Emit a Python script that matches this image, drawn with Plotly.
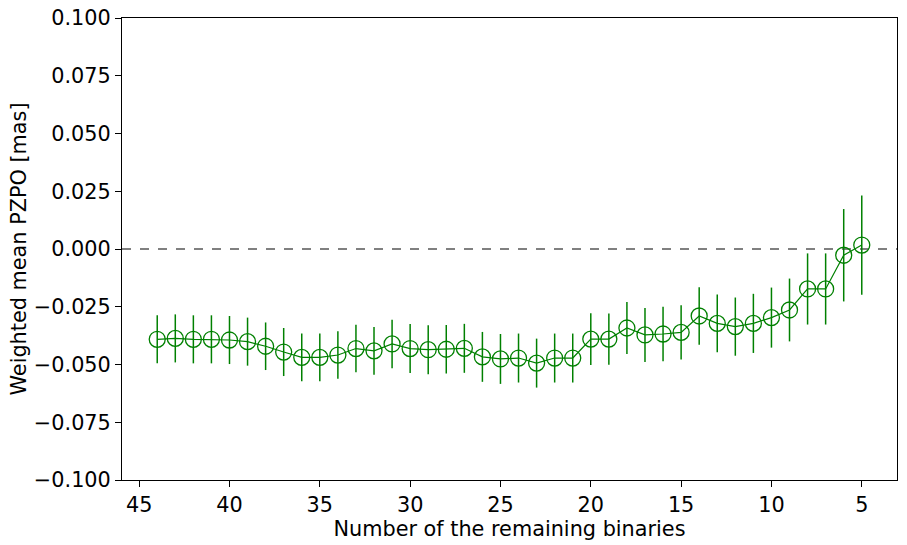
import plotly.graph_objects as go

n_binaries = list(range(44, 4, -1))
pzpo = [-0.0391, -0.0387, -0.0391, -0.0391, -0.0394, -0.0401, -0.0421, -0.0446,
        -0.0469, -0.0469, -0.0459, -0.0431, -0.0441, -0.0411, -0.0431, -0.0436,
        -0.0434, -0.0430, -0.0467, -0.0476, -0.0472, -0.0494, -0.0472, -0.0472,
        -0.0390, -0.0390, -0.0342, -0.0372, -0.0368, -0.0361, -0.0290, -0.0322,
        -0.0336, -0.0322, -0.0297, -0.0264, -0.0173, -0.0173, -0.0027, 0.0017]
pzpo_err = [0.0104, 0.0104, 0.0104, 0.0104, 0.0104, 0.0104, 0.0103, 0.0104,
            0.0103, 0.0103, 0.0103, 0.0103, 0.0103, 0.0105, 0.0106, 0.0106,
            0.0105, 0.0106, 0.0108, 0.0108, 0.0106, 0.0106, 0.0106, 0.0106,
            0.0112, 0.0111, 0.0113, 0.0117, 0.0118, 0.0117, 0.0124, 0.0125,
            0.0126, 0.0128, 0.0130, 0.0136, 0.0154, 0.0154, 0.0200, 0.0215]

green = "#008000"
font = dict(family="DejaVu Sans", size=20.8, color="black")

fig = go.Figure()
fig.add_hline(y=0, line=dict(color="gray", width=1.8, dash="dash"), layer="below")
fig.add_trace(go.Scatter(
    x=n_binaries, y=pzpo, mode="lines+markers",
    line=dict(color=green, width=1.2),
    marker=dict(symbol="circle-open", size=16, color=green, line=dict(width=1.3)),
    error_y=dict(type="data", array=pzpo_err, visible=True, color=green,
                 thickness=1.5, width=0),
    showlegend=False,
))

axis_common = dict(showline=True, linecolor="black", linewidth=1, mirror=True,
                   ticks="outside", ticklen=6, tickwidth=1, tickcolor="black",
                   showgrid=False, zeroline=False, tickfont=font, automargin=False,
                   ticklabeloverflow="allow")
fig.update_xaxes(range=[45.95, 3.05], tickvals=[45, 40, 35, 30, 25, 20, 15, 10, 5],
                 title=dict(text="Number of the remaining binaries", font=font, standoff=0),
                 **axis_common)
fig.update_yaxes(range=[-0.1, 0.1], dtick=0.025, tickformat=".3f",
                 title=dict(text="Weighted mean PZPO [mas]", font=font, standoff=1),
                 **axis_common)
fig.update_layout(width=907, height=545, plot_bgcolor="white", paper_bgcolor="white",
                  margin=dict(l=122, r=10, t=18, b=65), font=font)
fig.write_html("out.html", config={"displayModeBar": False},
               post_script="document.body.style.margin='0';")
